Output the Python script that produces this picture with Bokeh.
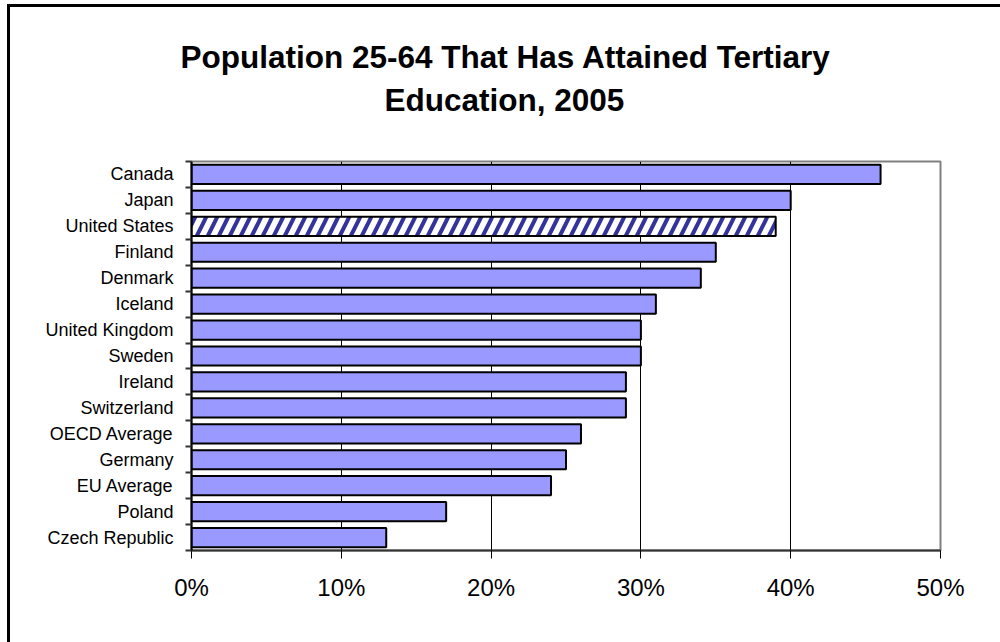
from bokeh.plotting import figure
from bokeh.models import Range1d, FixedTicker, ColumnDataSource, Title
from bokeh.embed import file_html
from bokeh.resources import INLINE

categories = ["Canada", "Japan", "United States", "Finland", "Denmark", "Iceland",
              "United Kingdom", "Sweden", "Ireland", "Switzerland", "OECD Average",
              "Germany", "EU Average", "Poland", "Czech Republic"]
values = [46, 40, 39, 35, 34, 31, 30, 30, 29, 29, 26, 25, 24, 17, 13]
highlight = "United States"
x_ticks = [0, 10, 20, 30, 40, 50]
x_tick_labels = ["0%", "10%", "20%", "30%", "40%", "50%"]
title_lines = ["Population 25-64 That Has Attained Tertiary", "Education, 2005"]

n = len(categories)
centers = [i + 0.5 for i in range(n)]
plain = [(c, v, y) for c, v, y in zip(categories, values, centers) if c != highlight]
hl = [(c, v, y) for c, v, y in zip(categories, values, centers) if c == highlight]

p = figure(width=1000, height=642, output_backend="svg", toolbar_location=None,
           x_range=Range1d(0, 50), y_range=Range1d(n, 0),
           min_border_left=191, min_border_right=60, min_border_top=161, min_border_bottom=92)
p.frame_width = 749
p.frame_height = 389
# outer chart border on the left and top edges (drawn under the transparent canvas border)
p.styles = {"box-shadow": "inset 7px 4px 0px 0px white, inset 10px 7px 0px 0px black"}

src = ColumnDataSource(dict(y=[t[2] for t in plain], right=[t[1] for t in plain]))
p.hbar(y="y", left=0, right="right", height=0.74, source=src,
       fill_color="#9999FF", line_color="black", line_width=2)
src2 = ColumnDataSource(dict(y=[t[2] for t in hl], right=[t[1] for t in hl]))
p.hbar(y="y", left=0, right="right", height=0.74, source=src2,
       fill_color="white", line_color="black", line_width=2,
       hatch_pattern="right_diagonal_line", hatch_color="#333399",
       hatch_weight=4, hatch_scale=22)

p.outline_line_color = "#808080"
p.outline_line_width = 2
p.background_fill_color = "white"
p.border_fill_color = None

# y axis
ya = p.yaxis[0]
ya.ticker = FixedTicker(ticks=centers, minor_ticks=list(range(n + 1)))
ya.major_label_overrides = {c: name for c, name in zip(centers, categories)}
ya.major_tick_out = 0
ya.major_tick_in = 0
ya.minor_tick_out = 6
ya.minor_tick_in = 0
ya.minor_tick_line_color = "#333333"
ya.minor_tick_line_width = 2
ya.axis_line_color = "black"
ya.axis_line_width = 2
ya.major_label_text_font = "Liberation Sans"
ya.major_label_text_font_size = "18px"
ya.major_label_text_color = "black"
ya.major_label_standoff = 12

# x axis
xa = p.xaxis[0]
xa.ticker = FixedTicker(ticks=x_ticks, minor_ticks=[])
xa.major_label_overrides = {t: s for t, s in zip(x_ticks, x_tick_labels)}
xa.major_tick_out = 8
xa.major_tick_in = 0
xa.major_tick_line_color = "black"
xa.axis_line_color = "#333333"
xa.axis_line_width = 2
xa.major_label_text_font = "Liberation Sans"
xa.major_label_text_font_size = "24px"
xa.major_label_text_color = "black"
xa.major_label_standoff = 15

p.ygrid.visible = False
p.xgrid.ticker = FixedTicker(ticks=x_ticks[1:-1])
p.xgrid.grid_line_color = "black"
p.xgrid.grid_line_width = 1

# title: spacer nearest the frame, then the two title lines
spacer = Title(text=" ", align="left", standoff=28, text_font_size="10px")
t2 = Title(text=title_lines[1], align="left", offset=193, standoff=6,
           text_font="Liberation Sans", text_font_style="bold",
           text_font_size="31.5px", text_color="black")
t1 = Title(text=title_lines[0], align="left", offset=-11, standoff=4,
           text_font="Liberation Sans", text_font_style="bold",
           text_font_size="31.5px", text_color="black")
p.add_layout(spacer, "above")
p.add_layout(t2, "above")
p.add_layout(t1, "above")

open("out.html", "w").write(file_html(p, INLINE))
